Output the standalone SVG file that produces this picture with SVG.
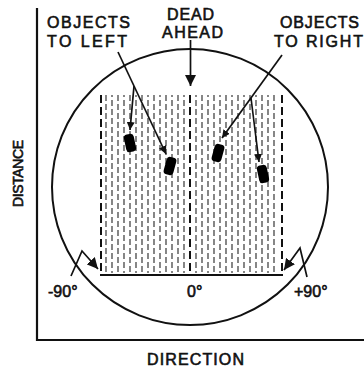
<svg xmlns="http://www.w3.org/2000/svg" width="364" height="372" viewBox="0 0 364 372">
<style>
.ax{stroke:#111;stroke-width:2.2;fill:none}
.circ{stroke:#111;stroke-width:2;fill:none}
.hatch{stroke:#7a7a7a;stroke-width:1.8;stroke-dasharray:6 3}
.hatch2{stroke:#7a7a7a;stroke-width:1.8;stroke-dasharray:6 3;stroke-dashoffset:4}
.edge{stroke:#111;stroke-width:2;stroke-dasharray:8 4;fill:none}
.ln{stroke:#111;stroke-width:1.7;fill:none}
.lbl{font-family:"Liberation Sans",Arial,sans-serif;font-size:16px;fill:#111;stroke:#111;stroke-width:0.6}
.blob{fill:#000}
</style>
<defs>
<marker id="ah" viewBox="0 0 10 10" refX="10" refY="5" markerWidth="8" markerHeight="8" orient="auto" markerUnits="userSpaceOnUse">
<path d="M0,0 L10,5 L0,10 z" fill="#111"/>
</marker>
<marker id="ahs" viewBox="0 0 10 10" refX="10" refY="5" markerWidth="11" markerHeight="11" orient="auto" markerUnits="userSpaceOnUse">
<path d="M0,0 L10,5 L0,10 z" fill="#111"/>
</marker>
</defs>
<g id="axes">
<line class="ax" x1="37" y1="8" x2="37" y2="341"/>
<line class="ax" x1="36" y1="340" x2="364" y2="340"/>
</g>
<g id="circle">
<circle class="circ" cx="190" cy="187" r="138"/>
</g>
<g id="field">
<g id="hatching">
<line class="hatch" x1="106" y1="95" x2="106" y2="273"/>
<line class="hatch2" x1="112" y1="95" x2="112" y2="273"/>
<line class="hatch" x1="118" y1="95" x2="118" y2="273"/>
<line class="hatch2" x1="124" y1="95" x2="124" y2="273"/>
<line class="hatch" x1="130" y1="95" x2="130" y2="273"/>
<line class="hatch2" x1="136" y1="95" x2="136" y2="273"/>
<line class="hatch" x1="142" y1="95" x2="142" y2="273"/>
<line class="hatch2" x1="148" y1="95" x2="148" y2="273"/>
<line class="hatch" x1="154" y1="95" x2="154" y2="273"/>
<line class="hatch2" x1="160" y1="95" x2="160" y2="273"/>
<line class="hatch" x1="166" y1="95" x2="166" y2="273"/>
<line class="hatch2" x1="172" y1="95" x2="172" y2="273"/>
<line class="hatch" x1="178" y1="95" x2="178" y2="273"/>
<line class="hatch2" x1="184" y1="95" x2="184" y2="273"/>
<line class="hatch2" x1="196" y1="95" x2="196" y2="273"/>
<line class="hatch" x1="202" y1="95" x2="202" y2="273"/>
<line class="hatch2" x1="208" y1="95" x2="208" y2="273"/>
<line class="hatch" x1="214" y1="95" x2="214" y2="273"/>
<line class="hatch2" x1="220" y1="95" x2="220" y2="273"/>
<line class="hatch" x1="226" y1="95" x2="226" y2="273"/>
<line class="hatch2" x1="232" y1="95" x2="232" y2="273"/>
<line class="hatch" x1="238" y1="95" x2="238" y2="273"/>
<line class="hatch2" x1="244" y1="95" x2="244" y2="273"/>
<line class="hatch" x1="250" y1="95" x2="250" y2="273"/>
<line class="hatch2" x1="256" y1="95" x2="256" y2="273"/>
<line class="hatch" x1="262" y1="95" x2="262" y2="273"/>
<line class="hatch2" x1="268" y1="95" x2="268" y2="273"/>
<line class="hatch" x1="274" y1="95" x2="274" y2="273"/>
</g>
<line class="edge" x1="101" y1="95" x2="101" y2="275"/>
<line class="edge" x1="190" y1="95" x2="190" y2="275"/>
<line class="edge" x1="282" y1="95" x2="282" y2="275"/>
<line class="ax" x1="100" y1="275" x2="283" y2="275"/>
</g>
<g id="objects">
<rect class="blob" x="125" y="134" width="10" height="18" rx="3.5" transform="rotate(-12 130 143)"/>
<rect class="blob" x="165" y="157" width="10" height="18" rx="3.5" transform="rotate(15 170 166)"/>
<rect class="blob" x="213" y="144" width="10" height="18" rx="3.5" transform="rotate(15 218 153)"/>
<rect class="blob" x="258" y="165" width="10" height="18" rx="3.5" transform="rotate(-12 263 174)"/>
</g>
<g id="connectors">
<line class="ln" x1="190.5" y1="40" x2="190.5" y2="86" marker-end="url(#ahs)"/>
<line class="ln" x1="118" y1="52" x2="166" y2="154" marker-end="url(#ah)"/>
<line class="ln" x1="134" y1="86" x2="130" y2="130" marker-end="url(#ah)"/>
<line class="ln" x1="282" y1="55" x2="222" y2="138" marker-end="url(#ah)"/>
<line class="ln" x1="251" y1="98" x2="259" y2="162" marker-end="url(#ah)"/>
<polyline class="ln" points="71,276 82,251 98,269" marker-end="url(#ahs)"/>
<polyline class="ln" points="307,277 300,248 284,270" marker-end="url(#ahs)"/>
</g>
<g id="labels">
<text class="lbl" x="47" y="28" textLength="83" lengthAdjust="spacing">OBJECTS</text>
<text class="lbl" x="47" y="47" textLength="80" lengthAdjust="spacing">TO LEFT</text>
<text class="lbl" x="167" y="20" textLength="47" lengthAdjust="spacing">DEAD</text>
<text class="lbl" x="162" y="38" textLength="61" lengthAdjust="spacing">AHEAD</text>
<text class="lbl" x="280" y="28" textLength="79" lengthAdjust="spacing">OBJECTS</text>
<text class="lbl" x="274" y="47" textLength="89" lengthAdjust="spacing">TO RIGHT</text>
<text class="lbl" x="147" y="365" textLength="97" lengthAdjust="spacing">DIRECTION</text>
<text class="lbl" transform="translate(23 207) rotate(-90)" x="0" y="0" textLength="67" lengthAdjust="spacing" style="font-size:14px">DISTANCE</text>
<text class="lbl" x="48" y="297">-90°</text>
<text class="lbl" x="187" y="297">0°</text>
<text class="lbl" x="294" y="297">+90°</text>
</g>
</svg>
